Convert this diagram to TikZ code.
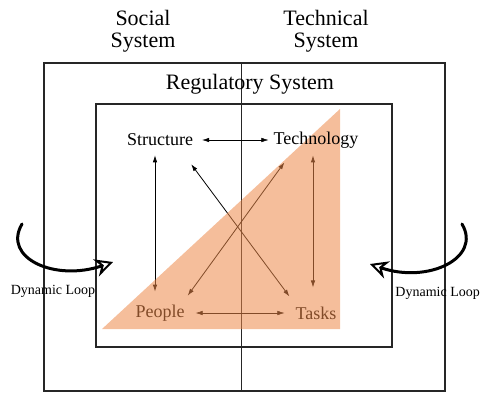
\documentclass[tikz,border=0pt]{standalone}
\usepackage{fontspec}
\setmainfont{Liberation Serif}
\usepackage{tikz}
\usetikzlibrary{arrows.meta,positioning}
\definecolor{tri}{RGB}{236,136,73}
\tikzstyle{factor}=[inner sep=1pt,font=\fontsize{18}{18}\selectfont]
\tikzstyle{syslabel}=[align=center,font=\fontsize{22}{22}\selectfont]
\tikzstyle{link}=[<->,>={Latex[length=7pt,width=4.5pt]},line width=0.8pt]
\tikzstyle{loop}=[line width=3pt,line cap=round,-{Stealth[open,length=18pt,width=18pt,line width=2pt]}]
\tikzstyle{looplabel}=[inner sep=1pt,font=\fontsize{14}{14}\selectfont]

\begin{document}
\begin{tikzpicture}[x=1pt,y=-1pt]
			\useasboundingbox (0,0) rectangle (483,392);

			% frames
			\draw[line width=1.1pt,black!85] (44,63) rectangle (445,391);
			\draw[line width=1.1pt,black!85] (96,104) rectangle (392,347);
			\draw[line width=1pt,black!85] (241,63) -- (241,391);

			\node[syslabel] (social) at (143,31) {Social\\System};
			\node[syslabel] (technical) at (326,31) {Technical\\System};
			\node[syslabel] (regulatory) at (250,84) {Regulatory System};

			% the four factors
			\node[factor] (structure) at (160,140) {Structure};
			\node[factor, right of=structure, node distance=156pt, text opacity=0] (technology) {Technology};
			\node[factor, below of=structure, node distance=173pt] (people) {People};
			\node[factor, right of=people, node distance=156pt] (tasks) {Tasks};

			\draw[link,line width=0.5pt] ([xshift=8pt]structure.east) -- ([xshift=-4pt]technology.west);
			\draw[link] ([xshift=-5pt,yshift=-8pt]structure.south) -- ([xshift=-5pt,yshift=12pt]people.north);
			\draw[link] ([xshift=-3pt,yshift=-6pt]technology.south) -- ([xshift=-3pt,yshift=18pt]tasks.north);
			\draw[link] ([xshift=-3pt,yshift=-17pt]structure.south east) -- ([xshift=-5pt,yshift=9pt]tasks.north west);
			\draw[link] ([xshift=12pt,yshift=-13pt]technology.south west) -- ([xshift=2pt,yshift=8pt]people.north east);
			\draw[link,line width=0.5pt] ([xshift=10pt]people.east) -- ([xshift=-10pt]tasks.west);

			% triangle
			\fill[tri,fill opacity=0.55] (102,329) -- (340,109) -- (340,329) -- cycle;
			\node[factor] at (technology) {Technology};

			% dynamic loops
			\coordinate (lstart) at (22,224);
			\coordinate (lend) at (113,262);
			\coordinate (rstart) at (462,224);
			\coordinate (rend) at (370,264);
			\draw[loop] (lstart) .. controls (2,258) and (55,282) .. (lend);
			\draw[loop] (rstart) .. controls (482,258) and (428,284) .. (rend);
			\node[looplabel] (lloop) at (53,291) {Dynamic Loop};
			\node[looplabel,anchor=east] (rloop) at (481,293) {Dynamic Loop};
		\end{tikzpicture}
\end{document}
